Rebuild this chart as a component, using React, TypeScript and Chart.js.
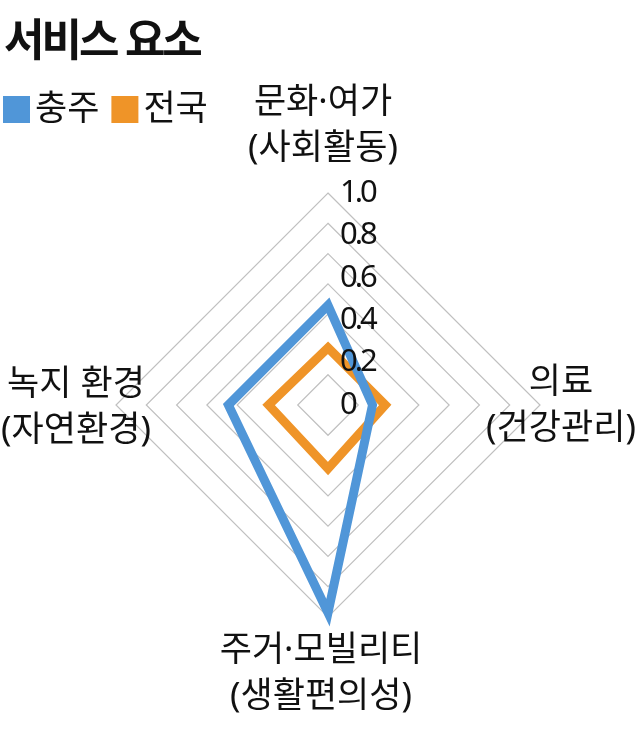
import { useEffect, useRef } from "react";
import { Chart, registerables } from "chart.js";

Chart.register(...registerables);

const TITLE = "서비스 요소";
const categories = [
  ["문화·여가", "(사회활동)"],
  ["의료", "(건강관리)"],
  ["주거·모빌리티", "(생활편의성)"],
  ["녹지 환경", "(자연환경)"],
];
const seriesNames = ["충주", "전국"];
const chungju = [0.47, 0.21, 0.98, 0.47];
const national = [0.27, 0.27, 0.3, 0.28];
const tickValues = [0, 0.2, 0.4, 0.6, 0.8, 1.0];
const tickLabels = ["0", "0.2", "0.4", "0.6", "0.8", "1.0"];

const BLUE = "#5096d8";
const ORANGE = "#ef9428";
const KR = "'Noto Sans', 'Noto Sans CJK KR', sans-serif";

// where each axis label sits, relative to the outer corner of its axis
const labelOffsets = [
  [-5, -90],
  [21, -22],
  [-7, 34],
  [-40, -20],
];
const LINE_GAP = 46;

const textPlugin = {
  id: "chartText",
  afterDraw(chart: any) {
    const ctx = chart.ctx as CanvasRenderingContext2D;
    const r = chart.scales.r;
    ctx.save();
    ctx.fillStyle = "#111";
    ctx.textBaseline = "middle";

    // title
    ctx.textAlign = "left";
    ctx.font = `bold 44px ${KR}`;
    (ctx as any).letterSpacing = "-3px";
    ctx.fillText(TITLE, 4, 43);

    // legend
    ctx.font = `35px ${KR}`;
    (ctx as any).letterSpacing = "0px";
    let x = 3;
    [BLUE, ORANGE].forEach((c, i) => {
      ctx.fillStyle = c;
      ctx.fillRect(x, 96, 27, 27);
      ctx.fillStyle = "#111";
      ctx.fillText(seriesNames[i], x + 32, 110);
      x += 32 + ctx.measureText(seriesNames[i]).width + 12;
    });

    // axis labels
    ctx.textAlign = "center";
    categories.forEach((lines, i) => {
      const p = r.getPointPosition(i, r.drawingArea);
      const [dx, dy] = labelOffsets[i];
      lines.forEach((line, j) => {
        ctx.fillText(line, p.x + dx, p.y + dy + j * LINE_GAP);
      });
    });

    // tick labels
    ctx.textAlign = "left";
    ctx.font = `31px 'Noto Sans', sans-serif`;
    (ctx as any).letterSpacing = "-3px";
    tickValues.forEach((v, i) => {
      const d = r.getDistanceFromCenterForValue(v);
      ctx.fillText(tickLabels[i], r.xCenter + 12, r.yCenter - d);
    });
    ctx.restore();
  },
};

export default function App() {
  const canvasRef = useRef<HTMLCanvasElement | null>(null);

  useEffect(() => {
    if (!canvasRef.current) return;
    document.body.style.margin = "0";

    const chart = new Chart(canvasRef.current, {
      type: "radar",
      data: {
        labels: categories.map((c) => c.join(" ")),
        datasets: [
          {
            label: seriesNames[0],
            data: chungju,
            borderColor: BLUE,
            borderWidth: 9,
            borderJoinStyle: "miter",
            fill: false,
            pointRadius: 0,
            clip: false,
          },
          {
            label: seriesNames[1],
            data: national,
            borderColor: ORANGE,
            borderWidth: 9,
            borderJoinStyle: "miter",
            fill: false,
            pointRadius: 0,
            clip: false,
          },
        ],
      },
      options: {
        responsive: false,
        animation: false,
        layout: { padding: { left: 116, right: 100, top: 193, bottom: 119 } },
        plugins: {
          legend: { display: false },
          tooltip: { enabled: false },
        },
        scales: {
          r: {
            min: 0,
            max: 1,
            ticks: { display: false, count: 8 },
            grid: { color: "#c0c0c0", lineWidth: 1.2 },
            angleLines: { display: false },
            pointLabels: { display: false },
          },
        },
      },
      plugins: [textPlugin],
    });

    return () => {
      chart.destroy();
    };
  }, []);

  return (
    <div style={{ width: 640, height: 736, background: "#fff" }}>
      <canvas ref={canvasRef} width={640} height={736} style={{ display: "block" }} />
    </div>
  );
}
